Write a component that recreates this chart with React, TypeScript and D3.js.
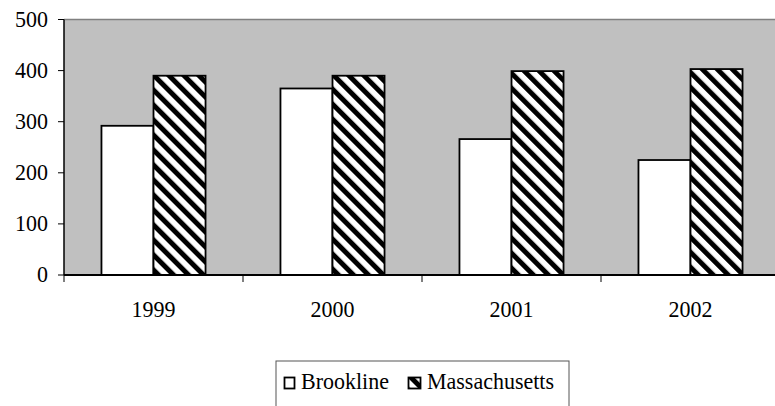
import React from "react";
import * as d3 from "d3";

const categories = ["1999", "2000", "2001", "2002"];
const seriesNames = ["Brookline", "Massachusetts"];
const brookline = [292, 365, 266, 225];
const massachusetts = [390, 390, 399, 403];
const yTicks = [0, 100, 200, 300, 400, 500];

const W = 775;
const H = 406;
const plotLeft = 64;
const plotTop = 19.5;
const plotBottom = 275;
const plotRight = 780;
const SERIF = "Liberation Serif";

function T(props: { x: number; y: number; anchor?: string; children: React.ReactNode }) {
  return (
    <text
      transform={`translate(${props.x},${props.y}) scale(1,1.08)`}
      textAnchor={props.anchor || "start"}
      fill="#000"
      fontFamily={SERIF}
      fontSize={22}
    >
      {props.children}
    </text>
  );
}

export default function App() {
  const x = d3.scaleBand<string>().domain(categories).range([plotLeft, plotRight]).padding(0);
  const xs = d3
    .scaleBand<string>()
    .domain(seriesNames)
    .range([0, x.bandwidth()])
    .paddingInner(0)
    .paddingOuter(0.72);
  const y = d3.scaleLinear().domain([0, 500]).range([plotBottom, plotTop]);
  const values = [brookline, massachusetts];
  const fills = ["#ffffff", "url(#hatch)"];
  const boundaries = [...categories.map((c) => x(c) as number), plotRight];

  return (
    <svg width={W} height={H} style={{ position: "absolute", left: 0, top: 0 }}>
      <defs>
        <pattern
          id="hatch"
          patternUnits="userSpaceOnUse"
          width={10.6}
          height={10.6}
          patternTransform="rotate(-45)"
        >
          <rect x={0} y={0} width={10.6} height={10.6} fill="#fff" />
          <rect x={0} y={0} width={5} height={10.6} fill="#000" />
        </pattern>
      </defs>
      <rect
        x={plotLeft}
        y={plotTop}
        width={plotRight - plotLeft}
        height={plotBottom - plotTop}
        fill="#c0c0c0"
      />
      <line x1={plotLeft} x2={plotRight} y1={plotTop} y2={plotTop} stroke="#808080" strokeWidth={1.5} />
      {seriesNames.map((s, si) =>
        categories.map((c, ci) => (
          <rect
            key={s + c}
            x={(x(c) as number) + (xs(s) as number)}
            y={y(values[si][ci])}
            width={xs.bandwidth()}
            height={plotBottom - y(values[si][ci])}
            fill={fills[si]}
            stroke="#000"
            strokeWidth={1.8}
          />
        ))
      )}
      <line x1={plotLeft} x2={plotLeft} y1={plotTop} y2={plotBottom} stroke="#000" strokeWidth={1.5} />
      <line x1={plotLeft} x2={plotRight} y1={plotBottom} y2={plotBottom} stroke="#000" strokeWidth={2} />
      {yTicks.map((t) => (
        <g key={t}>
          <line x1={58} x2={plotLeft} y1={y(t)} y2={y(t)} stroke="#000" strokeWidth={1} />
          <T x={48} y={y(t) + 7} anchor="end">
            {t}
          </T>
        </g>
      ))}
      {boundaries.map((b, i) => (
        <line key={i} x1={b} x2={b} y1={plotBottom} y2={282} stroke="#000" strokeWidth={1} />
      ))}
      {categories.map((c) => (
        <T key={c} x={(x(c) as number) + x.bandwidth() / 2} y={317} anchor="middle">
          {c}
        </T>
      ))}
      <rect x={276} y={361} width={293} height={60} fill="#fff" stroke="#555" strokeWidth={1} />
      <rect x={284.5} y={377.5} width={10} height={11} fill="#fff" stroke="#000" strokeWidth={1.8} />
      <T x={301} y={389}>
        {seriesNames[0]}
      </T>
      <rect x={408.5} y={377.5} width={12} height={11} fill="url(#hatch)" stroke="#000" strokeWidth={1.8} />
      <T x={427} y={389}>
        {seriesNames[1]}
      </T>
    </svg>
  );
}
